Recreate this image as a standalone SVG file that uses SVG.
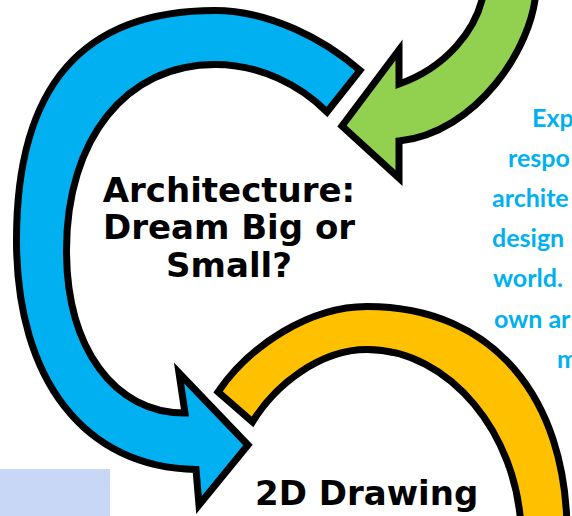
<svg xmlns="http://www.w3.org/2000/svg" width="572" height="516" viewBox="0 0 572 516">
<style>
.arr{stroke:#000;stroke-width:7;stroke-linejoin:miter;stroke-miterlimit:6}
.title{font-family:"DejaVu Sans",sans-serif;font-weight:bold;font-size:34px;fill:#000}
.desc{font-family:Lato,"Open Sans",sans-serif;font-weight:bold;font-size:25px;fill:#00B0F0}
</style>
<rect width="572" height="516" fill="#fff"/>
<g id="connectors">
<path id="arrow-yellow" class="arr" fill="#FFC000" d="M567,530 C566,400 495,306.5 367,306.5 C310,306.5 250,345 218,392 L252.5,422 C275,385 320,349.5 367,349.5 C450,349.5 518,435 521,530 Z"/>
<path id="arrow-blue" class="arr" fill="#00B0F0" d="M360,70.3 C325,40 270,10.5 215,10.5 C82,10.5 16.5,86 16.5,240 C16.5,380 85,468 196,469.5 L199,505 L248,445 L179,373 L185,413 C113.9,413 66.5,347.8 66.5,250 C66.5,139 126,64.5 215,64.5 C260,64.5 300,85 327,112 Z"/>
<path id="arrow-green" class="arr" fill="#92D050" d="M536,-10 C533,48 476,133 399,141 L399,178 L342,126 L399,50 L399,84 C445,68 478,30 484,-10 Z"/>
</g>
<g id="node-architecture">
<text class="title" text-anchor="middle" x="229" y="202">Architecture:</text>
<text class="title" text-anchor="middle" x="229" y="239">Dream Big or</text>
<text class="title" text-anchor="middle" x="229" y="277">Small?</text>
</g>
<g id="node-2d-drawing">
<text class="title" x="255" y="505">2D Drawing</text>
</g>
<g id="node-description">
<text class="desc" x="532" y="127">Exp</text>
<text class="desc" x="508" y="167">respo</text>
<text class="desc" x="492" y="207">archite</text>
<text class="desc" x="492" y="247">design</text>
<text class="desc" x="493" y="287">world.</text>
<text class="desc" x="494" y="328">own ar</text>
<text class="desc" x="557" y="368">m</text>
</g>
<g id="node-box">
<rect x="0" y="469" width="110" height="47" fill="#C7D7F5"/>
</g>
</svg>
